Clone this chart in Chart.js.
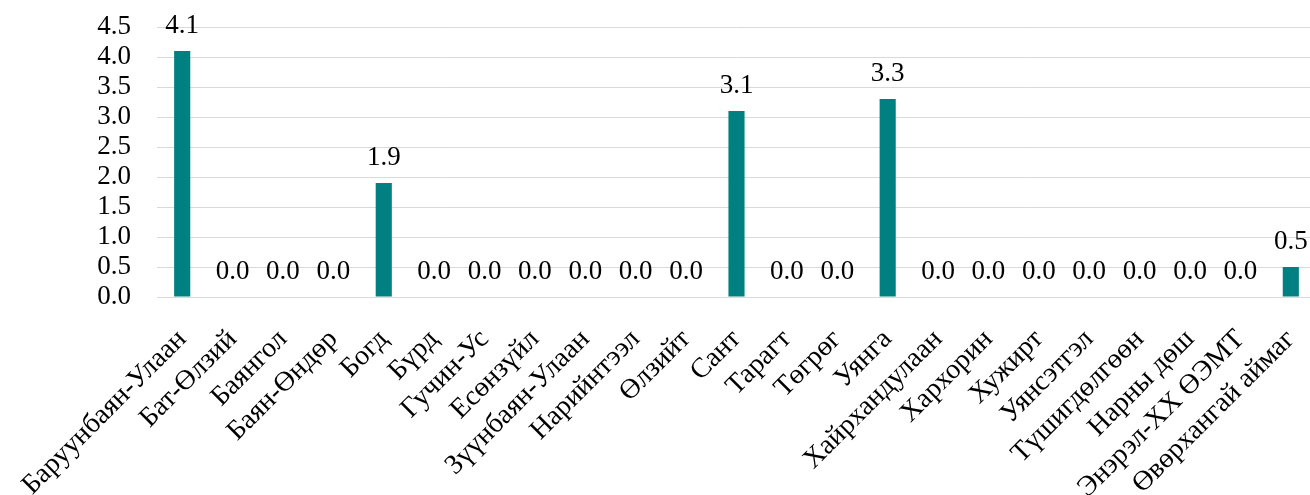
<!DOCTYPE html>
<html>
<head>
<meta charset="utf-8">
<script src="https://cdn.jsdelivr.net/npm/chart.js@4"></script>
<style>
  html, body { margin: 0; padding: 0; background: #fff; overflow: hidden; }
  #wrap { position: relative; width: 1316px; height: 495px; }
</style>
</head>
<body>
<div id="wrap"><canvas id="myChart"></canvas></div>
<script>
'use strict';

const categories = [
    'Баруунбаян-Улаан', 'Бат-Өлзий', 'Баянгол', 'Баян-Өндөр', 'Богд', 'Бүрд',
    'Гучин-Ус', 'Есөнзүйл', 'Зүүнбаян-Улаан', 'Нарийнтээл', 'Өлзийт', 'Сант',
    'Тарагт', 'Төгрөг', 'Уянга', 'Хайрхандулаан', 'Хархорин', 'Хужирт',
    'Уянсэтгэл', 'Түшигдөлгөөн', 'Нарны дөш', 'Энэрэл-ХХ ӨЭМТ', 'Өвөрхангай аймаг'
];
const values = [4.1, 0, 0, 0, 1.9, 0, 0, 0, 0, 0, 0, 3.1, 0, 0, 3.3, 0, 0, 0, 0, 0, 0, 0, 0.5];
const yTicks = [0, 0.5, 1, 1.5, 2, 2.5, 3, 3.5, 4, 4.5];

const font = 'Liberation Serif';

// value labels above the bars
const valueLabels = {
    id: 'valueLabels',
    afterDatasetsDraw(chart) {
        const ctx = chart.ctx;
        const meta = chart.getDatasetMeta(0);
        ctx.save();
        ctx.font = '27px "' + font + '"';
        ctx.fillStyle = '#000';
        ctx.textAlign = 'center';
        ctx.textBaseline = 'alphabetic';
        meta.data.forEach((bar, i) => {
            ctx.fillText(values[i].toFixed(1), bar.x, bar.y - 18);
        });
        ctx.restore();
    }
};

const config = {
    type: 'bar',
    data: {
        labels: categories,
        datasets: [{
            data: values,
            backgroundColor: '#008080',
            barPercentage: 0.64,
            categoryPercentage: 0.5
        }]
    },
    options: {
        responsive: true,
        maintainAspectRatio: false,
        animation: false,
        layout: {
            padding: { top: 27, right: 0, left: 0, bottom: 0 }
        },
        plugins: {
            legend: { display: false },
            tooltip: { enabled: false }
        },
        scales: {
            x: {
                grid: {
                    drawOnChartArea: false,
                    drawTicks: true,
                    tickLength: 26,
                    tickColor: 'rgba(0,0,0,0)'
                },
                border: { color: '#d9d9d9', width: 1 },
                ticks: {
                    autoSkip: false,
                    maxRotation: 45,
                    minRotation: 45,
                    padding: 0,
                    color: '#000',
                    font: { family: font, size: 28 }
                },
                afterFit(scale) {
                    scale.height = 198;
                }
            },
            y: {
                min: 0,
                max: 4.5,
                afterBuildTicks(scale) {
                    scale.ticks = yTicks.map(v => ({ value: v }));
                },
                grid: {
                    color: '#d9d9d9',
                    drawTicks: true,
                    tickLength: 26,
                    tickColor: 'rgba(0,0,0,0)'
                },
                border: { display: false },
                ticks: {
                    autoSkip: false,
                    padding: 0,
                    color: '#000',
                    font: { family: font, size: 27 },
                    callback: v => Number(v).toFixed(1)
                },
                afterFit(scale) {
                    scale.width = 157;
                }
            }
        }
    },
    plugins: [valueLabels]
};

let myChart = new Chart(document.getElementById('myChart'), config);
</script>
</body>
</html>
